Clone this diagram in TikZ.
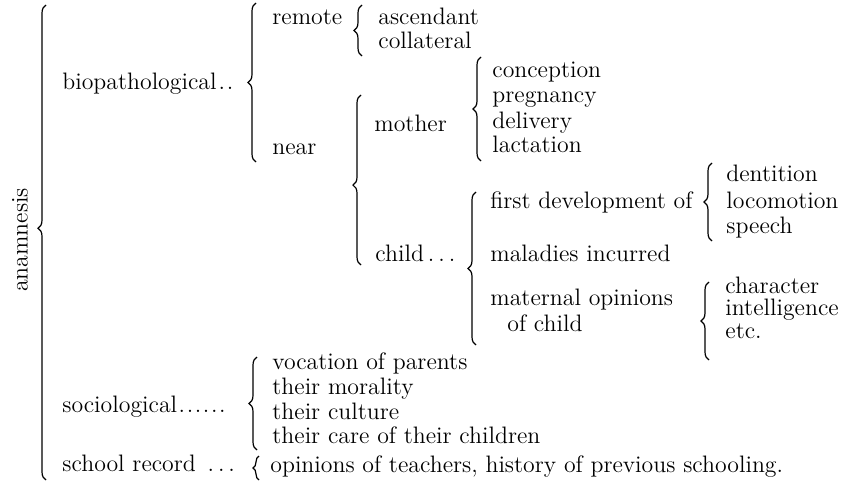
\documentclass[tikz,border=0pt]{standalone}
\usepackage{tikz}
\usetikzlibrary{decorations.pathreplacing, positioning}
\tikzstyle{curly} = [draw, decorate, decoration={brace, amplitude=4pt}, line width=0.6pt]
\tikzstyle{item} = [anchor=base west, inner sep=0pt, font=\fontsize{11.9}{14.2}\selectfont]

\begin{document}
\begin{tikzpicture}[x=0.5pt, y=-0.5pt]
    \useasboundingbox (0,0) rectangle (843,482);
    % title on the left
    \node (anam) [rotate=90, inner sep=0pt, font=\fontsize{11.9}{14.2}\selectfont] at (20,240) {anamnesis};

    % first level
    \node (bio) [item] at (62,90) {biopathological\kern1pt.\kern1pt.};
    \node (soc) [item] at (62,412) {sociological\kern0.8pt.\kern0.8pt.\kern0.8pt.\kern0.8pt.\kern0.8pt.\kern0.8pt.};
    \node (sch) [item] at (62,471) {school record \,.\,.\,.};

    % biopathological
    \node (rem) [item] at (272,25) {remote};
    \node (near) [item] at (272,155) {near};
    \node (asc) [item] at (378,25) {ascendant};
    \node (col) [item] at (378,48) {collateral};
    \node (mot) [item] at (374,132) {mother};
    \node (chi) [item] at (375,262) {child\,.\,.\,.};
    \node (con) [item] at (492,77) {conception};
    \node (pre) [item] at (492,103) {pregnancy};
    \node (del) [item] at (492,128) {delivery};
    \node (lac) [item] at (492,153) {lactation};
    \node (dev) [item] at (490,208) {first development of};
    \node (mal) [item] at (490,262) {maladies incurred};
    \node (opi) [item] at (490,306) {maternal opinions};
    \node (ofc) [item] at (507,331) {of child};
    \node (den) [item] at (726,182) {dentition};
    \node (loc) [item] at (726,208) {locomotion};
    \node (spe) [item] at (726,234) {speech};
    \node (cha) [item] at (725,293) {character};
    \node (int) [item] at (725,315) {intelligence};
    \node (etc) [item] at (725,338) {etc.};

    % sociological and school record
    \node (voc) [item] at (272,369) {vocation of parents};
    \node (mor) [item] at (272,394) {their morality};
    \node (cul) [item] at (272,419) {their culture};
    \node (car) [item] at (272,444) {their care of their children};
    \node (tea) [item] at (270,472) {opinions of teachers, history of previous schooling.};

    % brace ends
    \coordinate (anamT) at (46,5);    \coordinate (anamB) at (46,480);
    \coordinate (bioT) at (256,3);    \coordinate (bioB) at (256,162);
    \coordinate (remT) at (362,5);    \coordinate (remB) at (362,56);
    \coordinate (nearT) at (361,95);  \coordinate (nearB) at (361,265);
    \coordinate (motT) at (481,57);   \coordinate (motB) at (481,161);
    \coordinate (chiT) at (476,192);  \coordinate (chiB) at (476,345);
    \coordinate (devT) at (712,163);  \coordinate (devB) at (712,241);
    \coordinate (opiT) at (709,282);  \coordinate (opiB) at (709,360);
    \coordinate (socT) at (257,357);  \coordinate (socB) at (257,450);
    \coordinate (schT) at (259,456);  \coordinate (schB) at (259,480);

    \draw [curly, decoration={aspect=0.53}] (anamB) -- (anamT);
    \draw [curly] (bioB) -- (bioT);
    \draw [curly] (remB) -- (remT);
    \draw [curly, decoration={aspect=0.47}] (nearB) -- (nearT);
    \draw [curly] (motB) -- (motT);
    \draw [curly] (chiB) -- (chiT);
    \draw [curly] (devB) -- (devT);
    \draw [curly] (opiB) -- (opiT);
    \draw [curly] (socB) -- (socT);
    \draw [curly, decoration={amplitude=3pt}] (schB) -- (schT);
\end{tikzpicture}
\end{document}
